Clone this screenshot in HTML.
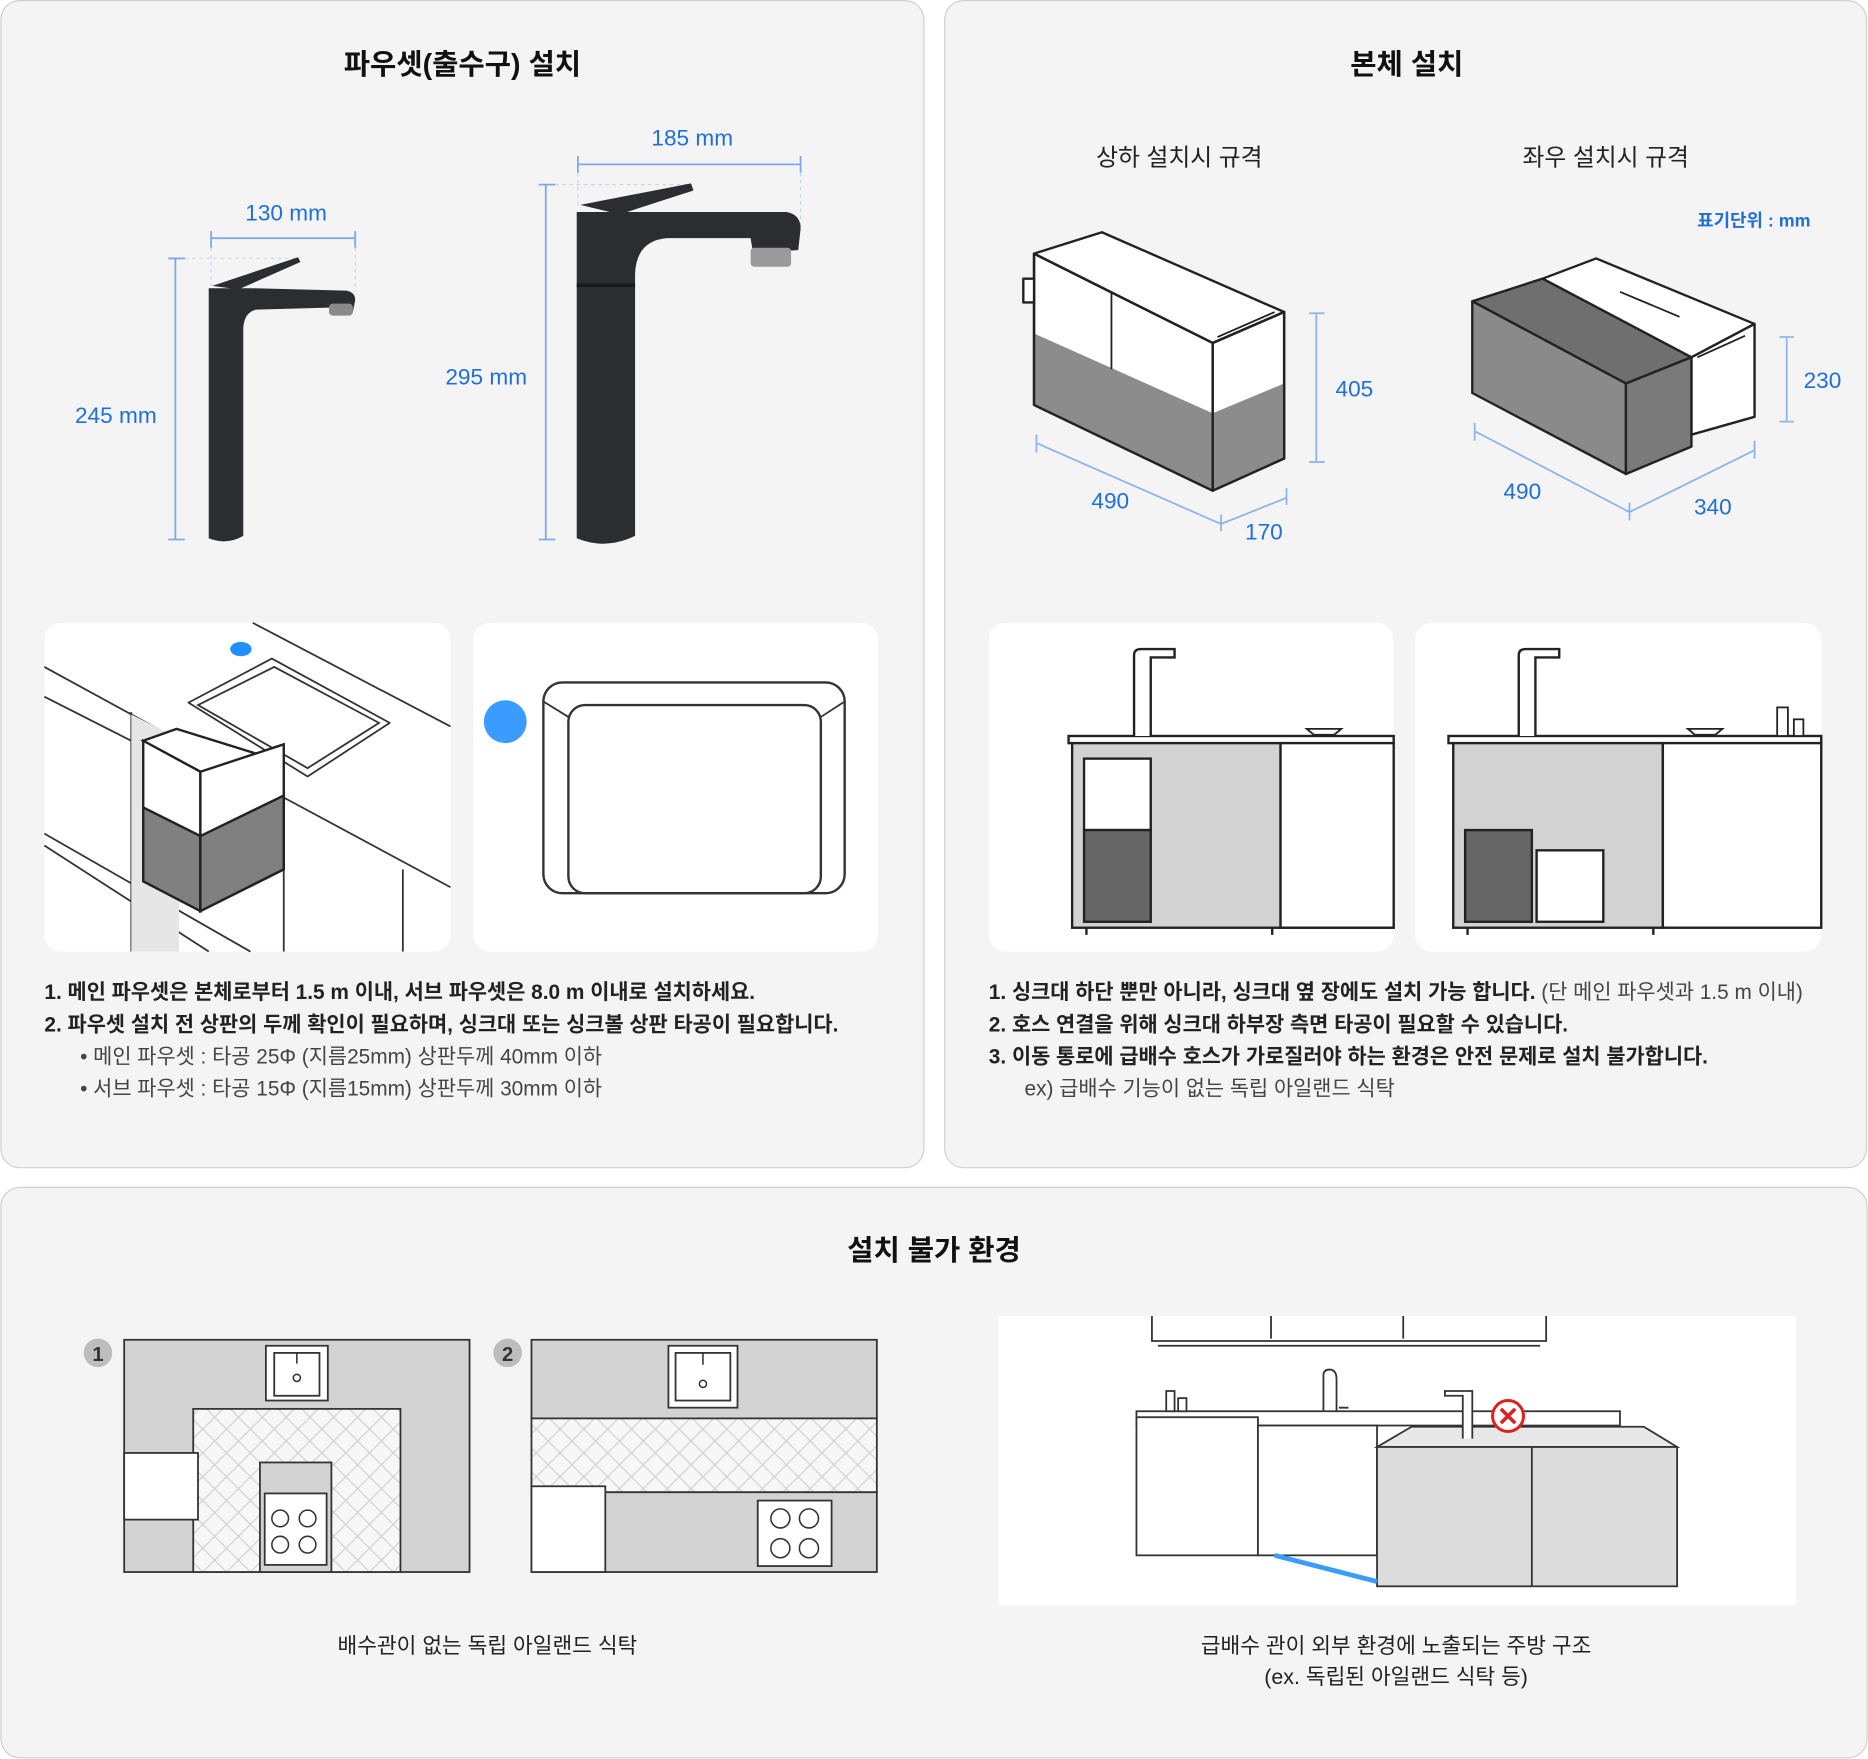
<!DOCTYPE html>
<html><head><meta charset="utf-8">
<style>
html,body{margin:0;padding:0;background:#fff;}
svg{display:block;}
text{font-family:"Liberation Sans","Noto Sans CJK KR",sans-serif;}
</style></head>
<body>
<svg width="1868" height="1759" viewBox="0 0 1568 1477" xmlns="http://www.w3.org/2000/svg">
<defs>
<pattern id="hb" width="20" height="20" patternUnits="userSpaceOnUse">
<rect width="20" height="20" fill="#f7f7f7"/>
<path d="M0 10 L10 0 M10 20 L20 10 M0 10 L10 20 M10 0 L20 10" stroke="#d0d0d0" stroke-width="1" fill="none"/>
</pattern>
</defs>
<!-- panels -->
<rect x="0.5" y="0.5" width="775" height="980" rx="16" fill="#f4f4f4" stroke="#cfcfcf"/>
<rect x="793" y="0.5" width="774" height="980" rx="16" fill="#f4f4f4" stroke="#cfcfcf"/>
<rect x="0.5" y="997" width="1567" height="479" rx="16" fill="#f4f4f4" stroke="#cfcfcf"/>

<g font-weight="bold" font-size="24" fill="#111" text-anchor="middle">
<text x="388" y="62">파우셋(출수구) 설치</text>
<text x="1181" y="62">본체 설치</text>
<text x="784" y="1058">설치 불가 환경</text>
</g>

<!-- faucet dims -->
<g fill="#1f6fd8" font-size="19" text-anchor="middle">
<text x="240" y="185">130 mm</text>
<text x="581" y="122">185 mm</text>
<text x="97" y="355">245 mm</text>
<text x="408" y="323">295 mm</text>
</g>
<g stroke="#7fa9e6" stroke-width="1.5" fill="none">
<path d="M177 200 H298 M177 194 V208 M298 194 V208"/>
<path d="M485 138 H672 M485 131 V145 M672 131 V145"/>
<path d="M147 217 V453 M141 217 H155 M141 453 H155"/>
<path d="M458 155 V453 M452 155 H466 M452 453 H466"/>
</g>
<g stroke="#c5d6ee" stroke-width="1" stroke-dasharray="3 3" fill="none">
<path d="M155 217 H250 M177 208 V240 M298 208 V245 M466 155 H580 M485 145 V175 M672 145 V190"/>
</g>
<!-- small faucet -->
<g fill="#2b2d31">
<path d="M178 240 L250 216 L252 220 L200 243 Z"/>
<path d="M175 242 H210 L290 244 Q298 245 298 252 L296 262 L290 264 L287 258 L215 260 Q205 262 204 275 L204 450 Q190 458 175 452 Z"/>
</g>
<rect x="276" y="255" width="20" height="10" rx="3" fill="#8a8a8a"/>
<!-- big faucet -->
<g fill="#2b2d31">
<path d="M487 172 L580 154 L582 160 L520 180 Z"/>
<path d="M484 178 L660 178 Q672 180 672 192 L670 210 L632 212 L630 200 L560 200 Q534 202 533 230 L533 450 Q508 462 484 452 Z"/>
</g>
<rect x="630" y="208" width="34" height="16" rx="3" fill="#9a9a9a"/>
<rect x="484" y="238" width="49" height="3" fill="#1a1b1e"/>

<!-- body install -->
<g font-size="20" fill="#222" text-anchor="middle">
<text x="990" y="139">상하 설치시 규격</text>
<text x="1348" y="139">좌우 설치시 규격</text>
</g>
<text x="1520" y="190" font-size="15" fill="#1f6fd8" text-anchor="end" font-weight="bold">표기단위 : mm</text>
<!-- box1 -->
<g stroke="#222" stroke-width="2" stroke-linejoin="round">
<polygon points="868,213 925,195 1078,262 1018,288" fill="#fff"/>
<polygon points="868,213 1018,288 1018,412 868,340" fill="#fff"/>
<polygon points="868,280 1018,347 1018,412 868,340" fill="#8c8c8c" stroke="none"/>
<polygon points="1018,288 1078,262 1078,385 1018,412" fill="#fff"/>
<polygon points="1018,347 1078,322 1078,385 1018,412" fill="#8c8c8c" stroke="none"/>
<polygon points="868,213 1018,288 1018,412 868,340" fill="none"/>
<polygon points="1018,288 1078,262 1078,385 1018,412" fill="none"/>
<path d="M933 246 V310 M1022 283 L1070 262" stroke-width="1.5" fill="none"/>
<rect x="859" y="234" width="9" height="20" fill="#fff"/>
</g>
<g stroke="#8fb4ea" stroke-width="1.5" fill="none">
<path d="M870 372 L1025 440 L1080 418 M870 365 V380 M1025 432 V446 M1080 410 V424"/>
<path d="M1105 263 V388 M1099 263 H1112 M1099 388 H1112"/>
<path d="M1238 362 L1368 430 L1473 378 M1238 355 V370 M1368 422 V437 M1473 370 V385"/>
<path d="M1500 283 V354 M1494 283 H1506 M1494 354 H1506"/>
</g>
<g fill="#1f6fd8" font-size="19" text-anchor="middle">
<text x="932" y="427">490</text><text x="1061" y="453">170</text><text x="1137" y="333">405</text>
<text x="1278" y="419">490</text><text x="1438" y="432">340</text><text x="1530" y="326">230</text>
</g>
<!-- box2 -->
<g stroke="#222" stroke-width="2" stroke-linejoin="round">
<polygon points="1295,234 1340,217 1473,272 1420,300" fill="#fff"/>
<polygon points="1420,300 1473,272 1473,350 1420,365" fill="#fff"/>
<polygon points="1236,253 1295,234 1420,300 1365,322" fill="#6f6f6f"/>
<polygon points="1236,253 1365,322 1365,398 1236,330" fill="#8a8a8a"/>
<polygon points="1365,322 1420,300 1420,375 1365,398" fill="#7a7a7a"/>
<path d="M1360 245 L1410 266 M1425 300 L1465 282" stroke-width="1.5" fill="none"/>
</g>

<!-- cards row 1 -->
<rect x="37" y="523" width="341" height="276" rx="14" fill="#fff"/>
<rect x="397" y="523" width="340" height="276" rx="14" fill="#fff"/>
<rect x="830" y="523" width="340" height="276" rx="14" fill="#fff"/>
<rect x="1188" y="523" width="341" height="276" rx="14" fill="#fff"/>
<!-- card1 sink iso -->
<g stroke="#333" stroke-width="1.5" fill="none">
<path d="M212 523 L378 610 M37 560 L220 660 L378 745 M37 585 L110 622 M37 700 L210 799 M37 710 L175 799"/>
<path d="M158 590 L228 553 L327 607 L258 652 Z" stroke-linejoin="round"/>
<path d="M166 592 L230 560 L318 607 L258 645 Z"/>
<path d="M110 598 V799 M238 668 V799 M338 730 V799"/>
</g>
<polygon points="110,600 150,620 150,799 110,799" fill="#e6e6e6"/>
<g stroke="#222" stroke-width="2">
<polygon points="120,622 148,612 238,640 168,648" fill="#fff"/>
<polygon points="120,622 168,648 168,765 120,740" fill="#fff"/>
<polygon points="120,678 168,702 168,765 120,740" fill="#808080"/>
<polygon points="168,648 238,625 238,730 168,765" fill="#fff"/>
<polygon points="168,702 238,668 238,730 168,765" fill="#808080"/>
</g>
<ellipse cx="202" cy="545" rx="9" ry="6" fill="#1e90ff"/>
<!-- card2 -->
<circle cx="424" cy="606" r="18" fill="#3b9cff"/>
<rect x="456" y="573" width="253" height="177" rx="16" fill="#fff" stroke="#333" stroke-width="2"/>
<rect x="477" y="592" width="212" height="158" rx="14" fill="#fff" stroke="#333" stroke-width="2"/>
<path d="M456 589 L477 602 M709 589 L689 602" stroke="#333" stroke-width="1.5"/>
<!-- card3 -->
<g stroke="#222" stroke-width="2">
<rect x="897" y="618" width="273" height="6" fill="#fff"/>
<rect x="900" y="624" width="175" height="155" fill="#d2d2d2"/>
<rect x="1075" y="624" width="95" height="155" fill="#fff"/>
<rect x="910" y="637" width="56" height="60" fill="#fff"/>
<rect x="910" y="697" width="56" height="77" fill="#666"/>
<path d="M912 779 V785 M1068 779 V785 M1075 779 H1170"/>
<path d="M952 618 V550 Q952 545 958 545 H986 V552 H966 V618" fill="#fff"/>
<path d="M1097 612 H1126 L1120 617 H1103 Z" fill="#fff" stroke-width="1.5"/>
</g>
<!-- card4 -->
<g stroke="#222" stroke-width="2">
<rect x="1216" y="618" width="313" height="6" fill="#fff"/>
<rect x="1220" y="624" width="176" height="155" fill="#d2d2d2"/>
<rect x="1396" y="624" width="133" height="155" fill="#fff"/>
<rect x="1230" y="697" width="56" height="77" fill="#666"/>
<rect x="1290" y="714" width="56" height="60" fill="#fff"/>
<path d="M1232 779 V785 M1388 779 V785"/>
<path d="M1275 618 V550 Q1275 545 1281 545 H1309 V552 H1289 V618" fill="#fff"/>
<path d="M1417 612 H1446 L1440 617 H1423 Z" fill="#fff" stroke-width="1.5"/>
<rect x="1492" y="594" width="9" height="24" fill="#fff" stroke-width="1.5"/>
<rect x="1506" y="604" width="8" height="14" fill="#fff" stroke-width="1.5"/>
</g>

<!-- texts section1 -->
<g font-size="17.5" fill="#222">
<text x="37" y="839" font-weight="bold">1. 메인 파우셋은 본체로부터 1.5 m 이내, 서브 파우셋은 8.0 m 이내로 설치하세요.</text>
<text x="37" y="866" font-weight="bold">2. 파우셋 설치 전 상판의 두께 확인이 필요하며, 싱크대 또는 싱크볼 상판 타공이 필요합니다.</text>
<text x="67" y="893" fill="#444">•  메인 파우셋 : 타공 25Φ (지름25mm) 상판두께 40mm 이하</text>
<text x="67" y="920" fill="#444">•  서브 파우셋 : 타공 15Φ (지름15mm) 상판두께 30mm 이하</text>
<text x="830" y="839"><tspan font-weight="bold">1. 싱크대 하단 뿐만 아니라, 싱크대 옆 장에도 설치 가능 합니다.</tspan><tspan fill="#444"> (단 메인 파우셋과 1.5 m 이내)</tspan></text>
<text x="830" y="866" font-weight="bold">2. 호스 연결을 위해 싱크대 하부장 측면 타공이 필요할 수 있습니다.</text>
<text x="830" y="893" font-weight="bold">3. 이동 통로에 급배수 호스가 가로질러야 하는 환경은 안전 문제로 설치 불가합니다.</text>
<text x="860" y="920" fill="#444">ex) 급배수 기능이 없는 독립 아일랜드 식탁</text>
</g>

<!-- section3 plan 1 -->
<circle cx="82" cy="1136" r="12" fill="#bdbdbd"/><text x="82" y="1143" font-size="17" font-weight="bold" text-anchor="middle" fill="#333">1</text>
<circle cx="426" cy="1136" r="12" fill="#bdbdbd"/><text x="426" y="1143" font-size="17" font-weight="bold" text-anchor="middle" fill="#333">2</text>
<g stroke="#333" stroke-width="1.5">
<rect x="104" y="1125" width="290" height="195" fill="#d3d3d3"/>
<rect x="162" y="1183" width="174" height="137" fill="url(#hb)"/>
<rect x="218" y="1228" width="60" height="92" fill="#d3d3d3"/>
<rect x="222" y="1254" width="52" height="60" fill="#fff"/>
<rect x="104" y="1220" width="62" height="56" fill="#fff"/>
<rect x="223" y="1130" width="52" height="46" fill="#fff"/>
<rect x="230" y="1136" width="38" height="36" fill="#fff"/>
<rect x="446" y="1125" width="290" height="66" fill="#d3d3d3"/>
<rect x="446" y="1191" width="290" height="62" fill="url(#hb)"/>
<rect x="446" y="1253" width="290" height="67" fill="#d3d3d3"/>
<rect x="446" y="1248" width="62" height="72" fill="#fff"/>
<rect x="561" y="1130" width="58" height="52" fill="#fff"/>
<rect x="567" y="1136" width="46" height="40" fill="#fff"/>
<rect x="636" y="1260" width="62" height="55" fill="#fff"/>
</g>
<g fill="none" stroke="#333" stroke-width="1.3">
<circle cx="235" cy="1275" r="7"/><circle cx="258" cy="1275" r="7"/><circle cx="235" cy="1297" r="7"/><circle cx="258" cy="1297" r="7"/>
<circle cx="655" cy="1275" r="8"/><circle cx="679" cy="1275" r="8"/><circle cx="655" cy="1300" r="8"/><circle cx="679" cy="1300" r="8"/>
<circle cx="249" cy="1157" r="3"/><circle cx="590" cy="1162" r="3"/>
<path d="M249 1136 V1145 M590 1136 V1146"/>
</g>
<!-- kitchen illustration -->
<rect x="838" y="1105" width="670" height="243" fill="#fff"/>
<g stroke="#333" stroke-width="1.5" fill="#fff">
<path d="M967 1105 V1126 H1298 V1105 M1067 1105 V1124 M1178 1105 V1124 M972 1130 H1293" fill="none"/>
<rect x="954" y="1185" width="406" height="12"/>
<rect x="954" y="1190" width="102" height="116"/>
<rect x="1056" y="1197" width="100" height="109"/>
<polygon points="1156,1215 1185,1198 1380,1198 1408,1215" fill="#e8e8e8"/>
<rect x="1156" y="1215" width="252" height="117" fill="#dcdcdc"/>
<path d="M1286 1215 V1332" fill="none"/>
<path d="M1111 1185 V1155 Q1111 1150 1116 1150 Q1122 1150 1122 1158 V1185 M1124 1182 H1132" fill="none"/>
<path d="M1228 1208 V1172 H1213 V1168 H1236 V1208" />
<rect x="979" y="1168" width="7" height="17"/><rect x="989" y="1174" width="7" height="11"/>
</g>
<path d="M1070 1306 L1156 1328" stroke="#3b9cff" stroke-width="4"/>
<circle cx="1266" cy="1189" r="13" fill="#fff" stroke="#e02020" stroke-width="2.5"/>
<path d="M1260 1183 L1272 1195 M1272 1183 L1260 1195" stroke="#e02020" stroke-width="3"/>

<g font-size="18" fill="#222" text-anchor="middle">
<text x="409" y="1388">배수관이 없는  독립 아일랜드 식탁</text>
<text x="1172" y="1388">급배수 관이 외부 환경에 노출되는 주방 구조</text>
<text x="1172" y="1414">(ex. 독립된 아일랜드 식탁 등)</text>
</g>
</svg>
</body></html>
